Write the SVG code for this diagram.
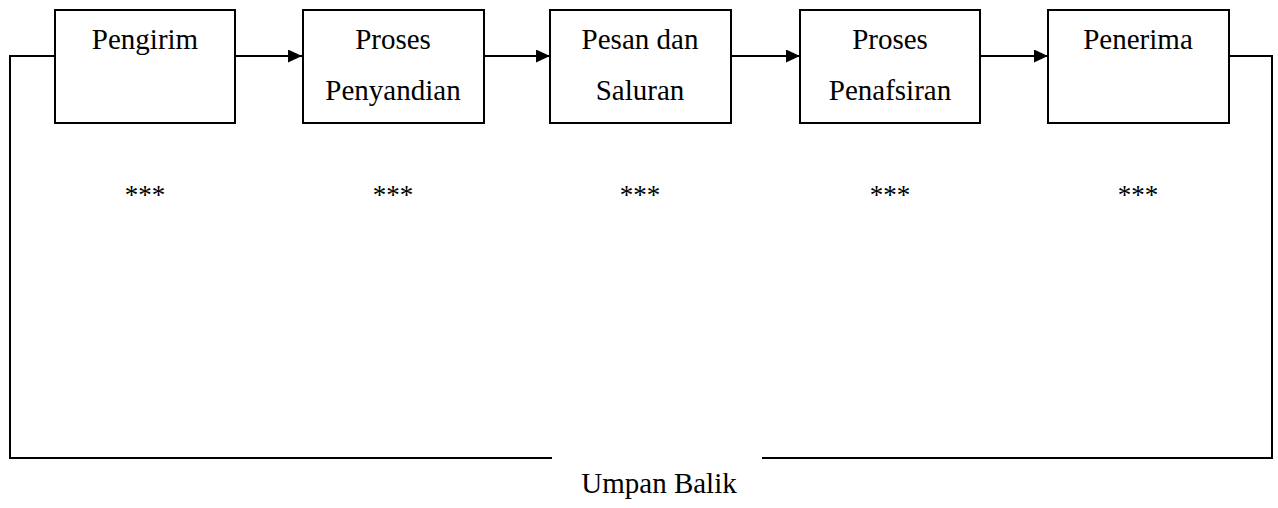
<svg xmlns="http://www.w3.org/2000/svg" width="1278" height="508" viewBox="0 0 1278 508">
  <style>
    .box { fill: #fff; stroke: #000; stroke-width: 2; }
    .lbl { font-family: "Liberation Serif", "Times New Roman", serif; font-size: 29px; fill: #000; text-anchor: middle; }
    .star { font-family: "Liberation Serif", "Times New Roman", serif; font-size: 27px; fill: #000; text-anchor: middle; }
    .wire { fill: none; stroke: #000; stroke-width: 2; }
  </style>
  <defs>
    <marker id="arrow" viewBox="0 0 14 13" refX="14" refY="6.5" markerWidth="14" markerHeight="13" markerUnits="userSpaceOnUse" orient="auto">
      <path d="M0,0 L14,6.5 L0,13 Z" fill="#000"/>
    </marker>
  </defs>
  <rect width="1278" height="508" fill="#fff"/>

  <g id="connectors">
    <line class="wire" x1="235" y1="56" x2="302" y2="56" marker-end="url(#arrow)"/>
    <line class="wire" x1="484" y1="56" x2="550" y2="56" marker-end="url(#arrow)"/>
    <line class="wire" x1="731" y1="56" x2="800" y2="56" marker-end="url(#arrow)"/>
    <line class="wire" x1="980" y1="56" x2="1048" y2="56" marker-end="url(#arrow)"/>
    <polyline class="wire" points="55,56 10,56 10,458 552,458"/>
    <polyline class="wire" points="1229,56 1272,56 1272,458 762,458"/>
    <text class="lbl" x="659" y="493" font-size="28">Umpan Balik</text>
  </g>

  <g id="pengirim">
    <rect class="box" x="55" y="10" width="180" height="113"/>
    <text class="lbl" x="145" y="49">Pengirim</text>
    <text class="star" x="145" y="204">***</text>
  </g>
  <g id="penyandian">
    <rect class="box" x="303" y="10" width="181" height="113"/>
    <text class="lbl" x="393" y="49">Proses</text>
    <text class="lbl" x="393" y="100">Penyandian</text>
    <text class="star" x="393" y="204">***</text>
  </g>
  <g id="pesan">
    <rect class="box" x="550" y="10" width="181" height="113"/>
    <text class="lbl" x="640" y="49">Pesan dan</text>
    <text class="lbl" x="640" y="100">Saluran</text>
    <text class="star" x="640" y="204">***</text>
  </g>
  <g id="penafsiran">
    <rect class="box" x="800" y="10" width="180" height="113"/>
    <text class="lbl" x="890" y="49">Proses</text>
    <text class="lbl" x="890" y="100">Penafsiran</text>
    <text class="star" x="890" y="204">***</text>
  </g>
  <g id="penerima">
    <rect class="box" x="1048" y="10" width="181" height="113"/>
    <text class="lbl" x="1138" y="49">Penerima</text>
    <text class="star" x="1138" y="204">***</text>
  </g>
</svg>
